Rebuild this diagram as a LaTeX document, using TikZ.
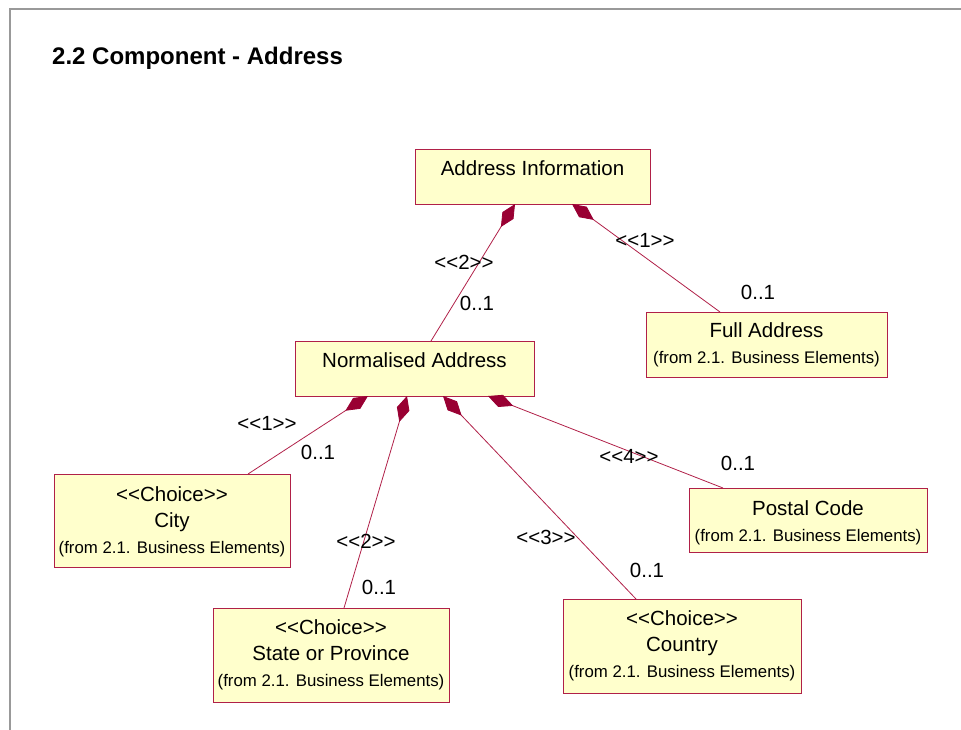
\documentclass[tikz,border=0pt]{standalone}
\usepackage{fontspec}
\setmainfont{Liberation Sans}[Ligatures=TeXOff]
\usetikzlibrary{arrows.meta,positioning}
\definecolor{boxfill}{RGB}{255,255,204}
\definecolor{boxline}{RGB}{176,32,72}
\definecolor{wine}{RGB}{153,0,51}
\definecolor{framegray}{RGB}{153,153,153}

\begin{document}
\begin{tikzpicture}[x=1pt, y=-1pt,
    cls/.style={draw=boxline, fill=boxfill, line width=0.9pt, anchor=north west, inner sep=0pt, outer sep=0pt},
    txt/.style={align=center, inner sep=0pt, font=\fontsize{20.5}{26}\selectfont},
    lbl/.style={inner sep=0pt, font=\fontsize{20.5}{24}\selectfont},
    comp/.style={draw=boxline, line width=0.8pt, -{Diamond[length=27pt, width=13pt, color=wine, fill=wine]}}]
    \def\from{{\fontsize{16.8}{26}\selectfont (from 2.1. Business Elements)}}
    \useasboundingbox (0,0) rectangle (961,730);

    % Frame and title
    \draw[framegray, line width=2pt] (961,9) -- (10,9) -- (10,730);
    \node[anchor=base west, inner sep=0pt, font=\fontsize{24}{28}\selectfont\bfseries] (title) at (52,65) {2.2 Component - Address};

    % Classes
    \node[cls, minimum width=235pt, minimum height=55pt] (ai) at (415,149) {};
    \node[cls, minimum width=239pt, minimum height=55pt] (na) at (295,341) {};
    \node[cls, minimum width=241pt, minimum height=65pt] (fa) at (646,312) {};
    \node[cls, minimum width=236pt, minimum height=93pt] (city) at (54,474) {};
    \node[cls, minimum width=236pt, minimum height=94pt] (sp) at (213,608) {};
    \node[cls, minimum width=238pt, minimum height=64pt] (pc) at (689,488) {};
    \node[cls, minimum width=238pt, minimum height=94pt] (co) at (563,599) {};

    \node[txt, below=11.5pt of ai.north] (ai-t) {Address Information};
    \node[txt, below=11.5pt of na.north] (na-t) {Normalised Address};
    \node[txt, below=10.5pt of fa.north] (fa-t) {Full Address\\\from};
    \node[txt, below=12.5pt of city.north] (city-t) {<<Choice>>\\City\\\from};
    \node[txt, below=11.5pt of sp.north] (sp-t) {<<Choice>>\\State or Province\\\from};
    \node[txt, below=12.5pt of pc.north] (pc-t) {Postal Code\\\from};
    \node[txt, below=11.5pt of co.north] (co-t) {<<Choice>>\\Country\\\from};

    % Compositions, diamond at the whole
    \draw[comp] ([xshift=136pt]na.north west) -- ([xshift=100pt]ai.south west);
    \draw[comp] ([xshift=74pt]fa.north west) -- ([xshift=157pt]ai.south west);
    \draw[comp] ([xshift=194pt]city.north west) -- ([xshift=73pt]na.south west);
    \draw[comp] ([xshift=131pt]sp.north west) -- ([xshift=112pt]na.south west);
    \draw[comp] ([xshift=73pt]co.north west) -- ([xshift=148pt]na.south west);
    \draw[comp] ([xshift=34pt]pc.north west) -- ([xshift=193pt]na.south west);

    % Order and multiplicity labels
    \foreach \x/\y/\t [count=\i] in {464/262/2, 645/240/1, 267/423/1, 366/541/2, 546/537/3, 629/456/4} {
        \node[lbl] (r\i) at (\x,\y) {<<\t>>};
    };
    \foreach \x/\y [count=\i] in {477/303, 758/292, 318/452, 379/587, 647/570, 738/463} {
        \node[lbl] (m\i) at (\x,\y) {0..1};
    };
\end{tikzpicture}
\end{document}
